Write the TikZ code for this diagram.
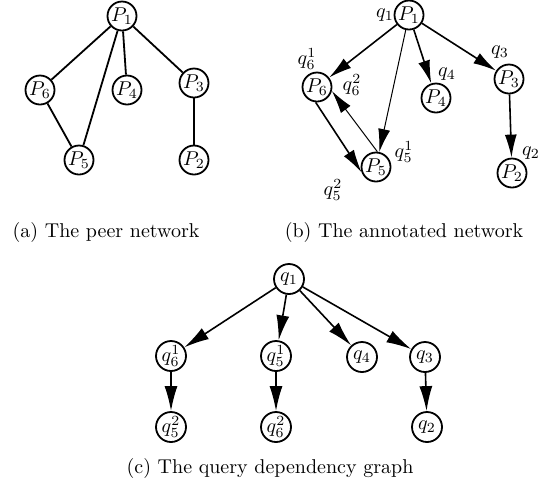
\documentclass[tikz,border=0pt]{standalone}
\usetikzlibrary{arrows.meta}
\begin{document}
\begin{tikzpicture}[x=0.5pt,y=-0.5pt,
  pn/.style={circle,draw,line width=0.9pt,minimum size=14.5pt,inner sep=0pt},
  qn/.style={circle,draw,line width=0.9pt,minimum size=15pt,inner sep=0pt},
  ln/.style={line width=0.9pt},
  ar/.style={line width=0.8pt,-{Latex[length=11.5pt,width=6pt]}},
  tar/.style={line width=0.5pt,-{Latex[length=11.5pt,width=6pt]}},
  car/.style={line width=0.8pt,-{Latex[length=12.5pt,width=6.5pt]}},
  lab/.style={inner sep=0pt},
  captext/.style={anchor=base,inner sep=0pt}]
\useasboundingbox (0,0) rectangle (539,484);

% (a) The peer network
\node[pn] (a1) at (122,16) {$P_1$};
\node[pn] (a6) at (40,90) {$P_6$};
\node[pn] (a4) at (127,90) {$P_4$};
\node[pn] (a3) at (194,83) {$P_3$};
\node[pn] (a5) at (79,160) {$P_5$};
\node[pn] (a2) at (194,160) {$P_2$};
\draw[ln] (a1) -- (a6);
\draw[ln] (a1) -- (a5);
\draw[ln] (a1) -- (a4);
\draw[ln] (a1) -- (a3);
\draw[ln] (a6) -- (a5);
\draw[ln] (a3) -- (a2);
\node[captext] (capa) at (106,237) {(a) The peer network};

% (b) The annotated network
\node[pn] (b1) at (409,15) {$P_1$};
\node[pn] (b6) at (317,87) {$P_6$};
\node[pn] (b4) at (436,98) {$P_4$};
\node[pn] (b3) at (509,79) {$P_3$};
\node[pn] (b5) at (376,167) {$P_5$};
\node[pn] (b2) at (512,173) {$P_2$};
\draw[ar] (b1) -- (b6);
\draw[tar] (b1) -- (b5);
\draw[ar] (b1) -- (b4);
\draw[ar] (b1) -- (b3);
\draw[ar] (b3) -- (b2);
\draw[ar] (b6.-95) -- (b5.200);
\draw[tar] (b5.85) -- (b6.-15);
\node[lab] (lq1) at (385,15) {$q_1$};
\node[lab] (lq61) at (307,59) {$q_6^1$};
\node[lab] (lq62) at (352,85) {$q_6^2$};
\node[lab] (lq4) at (447,74) {$q_4$};
\node[lab] (lq3) at (500,52) {$q_3$};
\node[lab] (lq51) at (404,152) {$q_5^1$};
\node[lab] (lq52) at (333,190) {$q_5^2$};
\node[lab] (lq2) at (531,153) {$q_2$};
\node[captext] (capb) at (404,237) {(b) The annotated network};

% (c) The query dependency graph
\node[qn] (c1) at (289,279) {$q_1$};
\node[qn] (c61) at (171,356) {$q_6^1$};
\node[qn] (c51) at (276,356) {$q_5^1$};
\node[qn] (c4) at (362,357) {$q_4$};
\node[qn] (c3) at (425,357) {$q_3$};
\node[qn] (c52) at (171,427) {$q_5^2$};
\node[qn] (c62) at (276,427) {$q_6^2$};
\node[qn] (c2) at (427,427) {$q_2$};
\draw[car] (c1) -- (c61);
\draw[car] (c1) -- (c51);
\draw[car] (c1) -- (c4);
\draw[car] (c1) -- (c3);
\draw[car] (c61) -- (c52);
\draw[car] (c51) -- (c62);
\draw[car] (c3) -- (c2);
\node[captext] (capc) at (270,473) {(c) The query dependency graph};
\end{tikzpicture}
\end{document}
